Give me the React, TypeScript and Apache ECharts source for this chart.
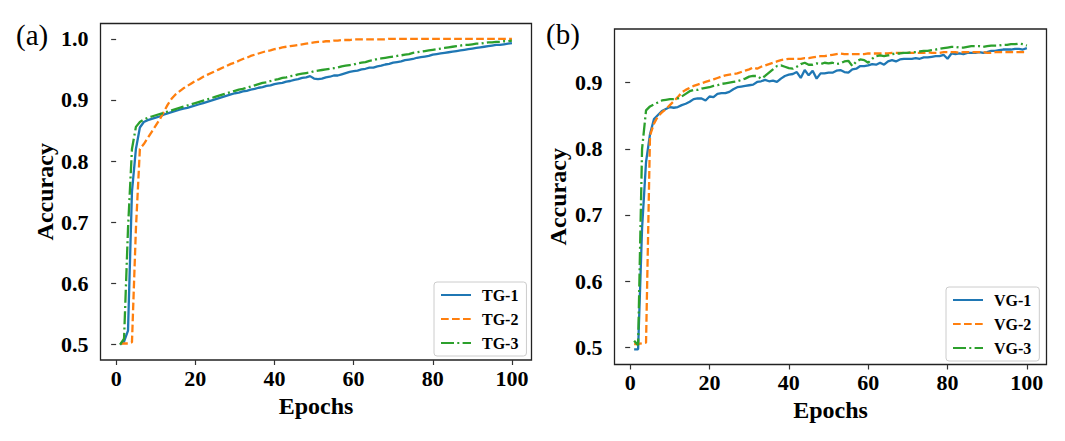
import React, { useEffect, useRef } from "react";
import * as echarts from "echarts";

// ---------- data (epochs 1..100) ----------
const tg1 = [
  0.500, 0.505, 0.523, 0.750, 0.820, 0.855, 0.864, 0.867, 0.869, 0.871,
  0.873, 0.876, 0.878, 0.880, 0.882, 0.884, 0.886, 0.887, 0.889, 0.891,
  0.893, 0.895, 0.897, 0.899, 0.901, 0.903, 0.905, 0.907, 0.909, 0.911,
  0.912, 0.914, 0.915, 0.917, 0.918, 0.920, 0.921, 0.923, 0.924, 0.926,
  0.927, 0.928, 0.930, 0.931, 0.933, 0.934, 0.936, 0.937, 0.939, 0.935,
  0.934, 0.935, 0.937, 0.938, 0.940, 0.940, 0.942, 0.944, 0.946, 0.947,
  0.948, 0.950, 0.951, 0.953, 0.953, 0.955, 0.956, 0.958, 0.959, 0.961,
  0.962, 0.963, 0.965, 0.966, 0.967, 0.969, 0.970, 0.971, 0.972, 0.974,
  0.975, 0.976, 0.977, 0.978, 0.979, 0.980, 0.981, 0.982, 0.983, 0.984,
  0.985, 0.986, 0.987, 0.988, 0.989, 0.990, 0.990, 0.991, 0.992, 0.993,
];
const tg2 = [
  0.502, 0.502, 0.502, 0.504, 0.690, 0.820, 0.828, 0.838, 0.848, 0.858,
  0.868, 0.880, 0.892, 0.902, 0.909, 0.914, 0.919, 0.923, 0.927, 0.931,
  0.934, 0.938, 0.941, 0.944, 0.947, 0.950, 0.953, 0.956, 0.959, 0.961,
  0.964, 0.967, 0.969, 0.972, 0.974, 0.976, 0.978, 0.980, 0.981, 0.983,
  0.984, 0.986, 0.987, 0.988, 0.989, 0.990, 0.991, 0.992, 0.993, 0.994,
  0.995, 0.995, 0.996, 0.996, 0.997, 0.997, 0.998, 0.998, 0.998, 0.999,
  0.999, 0.999, 0.999, 0.999, 0.999, 0.999, 0.999, 0.999, 1.000, 1.000,
  1.000, 1.000, 1.000, 1.000, 1.000, 1.000, 1.000, 1.000, 1.000, 1.000,
  1.000, 1.000, 1.000, 1.000, 1.000, 1.000, 1.000, 1.000, 1.000, 1.000,
  1.000, 1.000, 1.000, 1.000, 1.000, 1.000, 1.000, 1.000, 1.000, 1.000,
];
const tg3 = [
  0.500, 0.510, 0.690, 0.820, 0.856, 0.864, 0.868, 0.871, 0.873, 0.875,
  0.877, 0.879, 0.881, 0.883, 0.885, 0.887, 0.889, 0.891, 0.893, 0.895,
  0.897, 0.899, 0.901, 0.903, 0.905, 0.907, 0.909, 0.911, 0.913, 0.915,
  0.917, 0.918, 0.920, 0.922, 0.924, 0.926, 0.928, 0.929, 0.931, 0.933,
  0.934, 0.936, 0.937, 0.939, 0.940, 0.942, 0.943, 0.944, 0.945, 0.947,
  0.948, 0.949, 0.950, 0.951, 0.952, 0.953, 0.955, 0.956, 0.957, 0.958,
  0.960, 0.961, 0.962, 0.964, 0.965, 0.967, 0.968, 0.969, 0.970, 0.971,
  0.972, 0.973, 0.974, 0.975, 0.977, 0.978, 0.979, 0.980, 0.981, 0.982,
  0.983, 0.984, 0.985, 0.986, 0.987, 0.988, 0.989, 0.990, 0.990, 0.991,
  0.992, 0.992, 0.993, 0.994, 0.994, 0.995, 0.995, 0.996, 0.996, 0.997,
];

const vg1 = [
  0.497, 0.497, 0.680, 0.780, 0.822, 0.845, 0.851, 0.857, 0.860, 0.863,
  0.862, 0.863, 0.866, 0.868, 0.871, 0.875, 0.876, 0.876, 0.873, 0.879,
  0.878, 0.883, 0.884, 0.884, 0.886, 0.890, 0.893, 0.894, 0.895, 0.896,
  0.897, 0.901, 0.902, 0.904, 0.902, 0.903, 0.901, 0.906, 0.910, 0.912,
  0.913, 0.916, 0.907, 0.919, 0.911, 0.918, 0.906, 0.914, 0.914, 0.915,
  0.915, 0.918, 0.919, 0.916, 0.915, 0.920, 0.921, 0.925, 0.925, 0.926,
  0.928, 0.927, 0.930, 0.927, 0.932, 0.934, 0.932, 0.935, 0.936, 0.936,
  0.936, 0.937, 0.936, 0.938, 0.938, 0.939, 0.940, 0.940, 0.942, 0.936,
  0.944, 0.943, 0.944, 0.943, 0.945, 0.945, 0.945, 0.946, 0.945, 0.946,
  0.948, 0.948, 0.949, 0.950, 0.950, 0.950, 0.951, 0.951, 0.950, 0.952,
];
const vg2 = [
  0.505, 0.505, 0.506, 0.507, 0.820, 0.838, 0.849, 0.855, 0.860, 0.866,
  0.872, 0.878, 0.885, 0.889, 0.892, 0.895, 0.897, 0.899, 0.901, 0.903,
  0.905, 0.907, 0.909, 0.911, 0.912, 0.913, 0.914, 0.916, 0.918, 0.920,
  0.923, 0.921, 0.924, 0.926, 0.928, 0.930, 0.932, 0.934, 0.935, 0.936,
  0.936, 0.936, 0.936, 0.937, 0.937, 0.938, 0.939, 0.940, 0.940, 0.941,
  0.942, 0.943, 0.944, 0.943, 0.943, 0.943, 0.943, 0.943, 0.943, 0.944,
  0.944, 0.944, 0.944, 0.944, 0.944, 0.945, 0.945, 0.945, 0.945, 0.945,
  0.945, 0.945, 0.945, 0.945, 0.946, 0.945, 0.945, 0.945, 0.946, 0.946,
  0.946, 0.946, 0.945, 0.946, 0.946, 0.946, 0.946, 0.946, 0.946, 0.945,
  0.945, 0.946, 0.946, 0.946, 0.946, 0.946, 0.946, 0.946, 0.946, 0.946,
];
const vg3 = [
  0.510, 0.503, 0.800, 0.858, 0.864, 0.867, 0.870, 0.873, 0.874, 0.875,
  0.875, 0.876, 0.879, 0.883, 0.887, 0.889, 0.889, 0.891, 0.892, 0.893,
  0.895, 0.896, 0.898, 0.899, 0.900, 0.901, 0.902, 0.904, 0.906, 0.909,
  0.910, 0.910, 0.906, 0.910, 0.915, 0.920, 0.925, 0.926, 0.924, 0.922,
  0.921, 0.924, 0.928, 0.930, 0.927, 0.927, 0.929, 0.928, 0.930, 0.929,
  0.930, 0.928, 0.929, 0.932, 0.933, 0.925, 0.932, 0.935, 0.934, 0.930,
  0.936, 0.940, 0.941, 0.940, 0.941, 0.943, 0.944, 0.944, 0.945, 0.945,
  0.946, 0.946, 0.947, 0.948, 0.948, 0.949, 0.950, 0.951, 0.952, 0.953,
  0.954, 0.954, 0.953, 0.953, 0.954, 0.955, 0.955, 0.955, 0.954, 0.955,
  0.956, 0.956, 0.956, 0.957, 0.957, 0.958, 0.958, 0.959, 0.958, 0.956,
];

const namesA = ["TG-1", "TG-2", "TG-3"];
const namesB = ["VG-1", "VG-2", "VG-3"];
const xTicks = [0, 20, 40, 60, 80, 100];
const yTicksA = [0.5, 0.6, 0.7, 0.8, 0.9, 1.0];
const yTicksB = [0.5, 0.6, 0.7, 0.8, 0.9];

const COLORS = ["#1f77b4", "#ff7f0e", "#2ca02c"];
const DASHES: any[] = ["solid", [7.7, 3.3], [13, 3.3, 2, 3.3]];
const FONT = "Liberation Serif";

const toPairs = (vals: number[]) => vals.map((v, i) => [i + 1, v]);

function xAxis(gridIndex: number) {
  return {
    type: "value",
    gridIndex,
    min: -3.95,
    max: 104.95,
    axisLine: { show: false },
    splitLine: { show: false },
    axisTick: {
      show: true,
      customValues: xTicks,
      length: 5,
      lineStyle: { color: "#333", width: 1.2 },
    },
    axisLabel: {
      customValues: xTicks,
      fontFamily: FONT,
      fontWeight: "bold",
      fontSize: 22,
      color: "#000",
      margin: 7,
    },
    name: "Epochs",
    nameLocation: "middle",
    nameGap: 31,
    nameTextStyle: { fontFamily: FONT, fontWeight: "bold", fontSize: 24, color: "#000" },
  };
}

function yAxis(gridIndex: number, min: number, max: number, ticks: number[], gap: number) {
  return {
    type: "value",
    gridIndex,
    min,
    max,
    axisLine: { show: false },
    splitLine: { show: false },
    axisTick: {
      show: true,
      customValues: ticks,
      length: 5,
      lineStyle: { color: "#333", width: 1.2 },
    },
    axisLabel: {
      customValues: ticks,
      formatter: (v: number) => v.toFixed(1),
      fontFamily: FONT,
      fontWeight: "bold",
      fontSize: 22,
      color: "#000",
      margin: 12,
    },
    name: "Accuracy",
    nameLocation: "middle",
    nameRotate: 90,
    nameGap: gap,
    nameTextStyle: { fontFamily: FONT, fontWeight: "bold", fontSize: 24, color: "#000" },
  };
}

function seriesFor(names: string[], datas: number[][], axisIndex: number) {
  return names.map((name, i) => ({
    name,
    type: "line",
    xAxisIndex: axisIndex,
    yAxisIndex: axisIndex,
    data: toPairs(datas[i]),
    symbol: "none",
    showSymbol: false,
    smooth: false,
    lineStyle: { color: COLORS[i], width: 2.3, type: DASHES[i] },
    itemStyle: { color: COLORS[i] },
    z: 2 + i,
  }));
}

function legendFor(names: string[], left: number, top: number) {
  return {
    data: names,
    orient: "vertical",
    left,
    top,
    itemWidth: 30,
    itemHeight: 14,
    itemGap: 8,
    padding: [5, 8, 5, 6],
    backgroundColor: "rgba(255,255,255,0.8)",
    borderColor: "#cccccc",
    borderWidth: 1,
    borderRadius: 3,
    itemStyle: { opacity: 0, borderWidth: 0 },
    textStyle: {
      fontFamily: FONT,
      fontWeight: "bold",
      fontSize: 16,
      color: "#000",
      padding: [0, 0, 0, 6],
    },
  };
}

export default function App() {
  const ref = useRef<HTMLDivElement>(null);

  useEffect(() => {
    if (!ref.current) return;
    const chart = echarts.init(ref.current, undefined, { renderer: "svg" });
    const gridStyle = {
      show: true,
      borderColor: "#222",
      borderWidth: 1.3,
      backgroundColor: "transparent",
    };
    chart.setOption({
      animation: false,
      backgroundColor: "#fff",
      grid: [
        { ...gridStyle, left: 100.5, top: 23.5, width: 431, height: 336.5 },
        { ...gridStyle, left: 614.5, top: 29, width: 432, height: 335.5 },
      ],
      xAxis: [xAxis(0), xAxis(1)],
      yAxis: [
        yAxis(0, 0.475, 1.025, yTicksA, 40),
        yAxis(1, 0.474, 0.981, yTicksB, 45),
      ],
      legend: [legendFor(namesA, 434, 282), legendFor(namesB, 946, 287)],
      series: [
        ...seriesFor(namesA, [tg1, tg2, tg3], 0),
        ...seriesFor(namesB, [vg1, vg2, vg3], 1),
      ],
      graphic: [
        {
          type: "text",
          x: 16,
          y: 35,
          style: { text: "(a)", fontFamily: FONT, fontSize: 29, fill: "#000", verticalAlign: "middle", align: "left" },
        },
        {
          type: "text",
          x: 546,
          y: 34,
          style: { text: "(b)", fontFamily: FONT, fontSize: 29, fill: "#000", verticalAlign: "middle", align: "left" },
        },
      ],
    });
    return () => chart.dispose();
  }, []);

  return (
    <div
      ref={ref}
      style={{ position: "fixed", left: 0, top: 0, width: 1065, height: 441, background: "#fff" }}
    />
  );
}
